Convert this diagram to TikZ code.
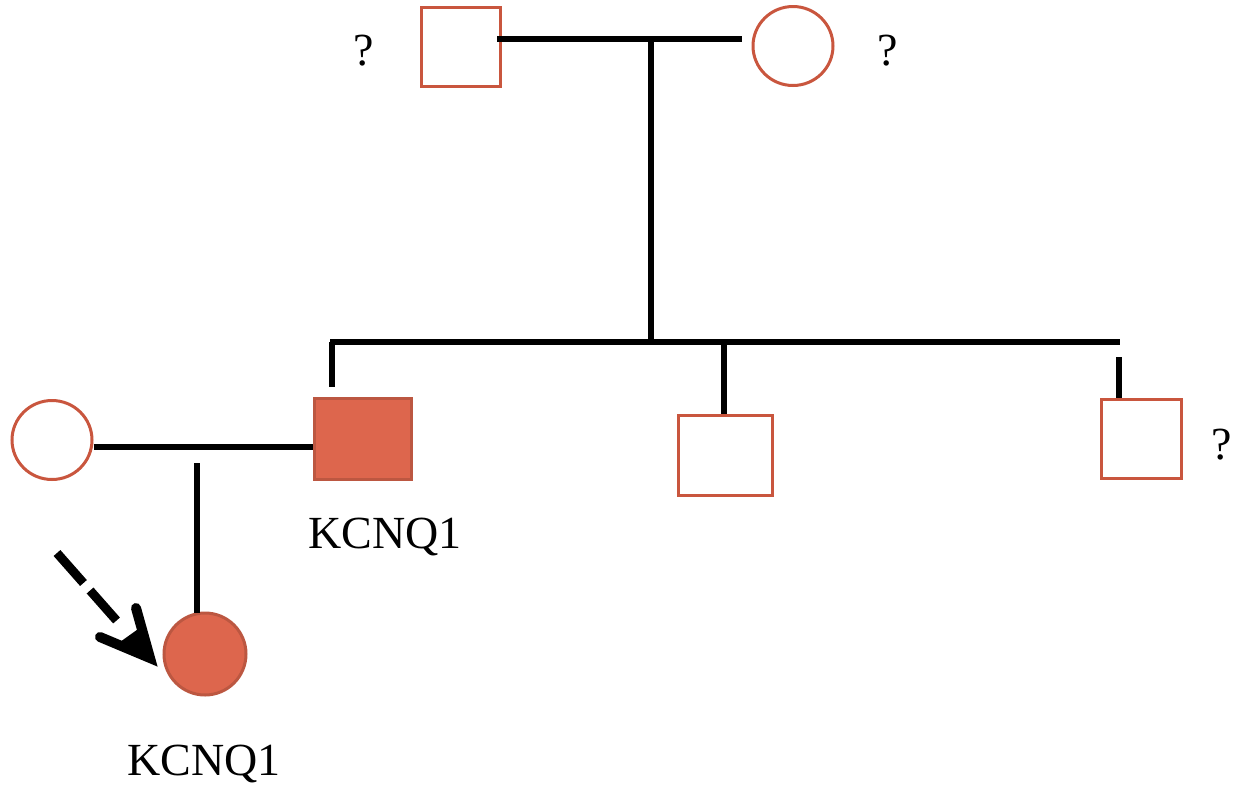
\documentclass[tikz,border=0pt]{standalone}
\usepackage{fontspec}
\setmainfont{Liberation Serif}
\definecolor{aff}{HTML}{DD664D}
\definecolor{edge}{HTML}{C9563E}
\tikzset{
  sq/.style={draw=edge, line width=3pt, fill=white, minimum width=79pt, minimum height=79pt, inner sep=0pt},
  sqf/.style={sq, fill=aff, draw=aff!85!black},
  ci/.style={draw=edge, line width=3pt, fill=white, ellipse, minimum width=80pt, minimum height=79pt, inner sep=0pt},
  cif/.style={ci, fill=aff, draw=aff!85!black},
  link/.style={line width=6pt, black},
  lbl/.style={font=\fontsize{46}{50}\selectfont, anchor=base, inner sep=0pt},
}
\usetikzlibrary{shapes.geometric}
\begin{document}
\begin{tikzpicture}[x=1pt,y=-1pt]
\useasboundingbox (0,0) rectangle (1235,788);
% parents
\node[sq] (gf) at (460.5,46.5) {};
\node[ci] (gm) at (793,46) {};
\coordinate (gmate) at (497,39);
\coordinate (gmateR) at (742,39);
\coordinate (gdrop) at (651,39);
\draw[link] (gmate) -- (gmateR);
% sibship
\coordinate (sibL) at (330,342);
\coordinate (sibR) at (1120,342);
\coordinate (sibM) at (651,342);
\draw[link] (gdrop) -- (sibM);
\draw[link] (sibL) -- (sibR);
% children
\node[sqf, minimum width=97pt, minimum height=81pt] (f) at (362.5,438.5) {};
\node[sq, minimum width=94pt, minimum height=80pt] (u1) at (725,455) {};
\node[sq, minimum width=80pt, minimum height=79pt] (u2) at (1141,438.5) {};
\coordinate (fTop) at (332,342);
\coordinate (u1Top) at (724,342);
\coordinate (u2Top) at (1119,357);
\draw[link] (fTop) -- (332,387);
\draw[link] (u1Top) -- (u1.north -| u1Top);
\draw[link] (u2Top) -- (u2.north -| u2Top);
% spouse
\node[ci] (m) at (52,440) {};
\draw[link] (m.east |- 0,447) -- (f.west |- 0,447);
\coordinate (cdrop) at (197,463);
% proband
\node[cif, minimum width=82pt, minimum height=82pt] (p) at (205,654) {};
\draw[link] (cdrop) -- (197,613);
% arrow
\coordinate (arrS) at (57,553);
\coordinate (arrT) at (150,658);
\draw[line width=9pt, dash pattern=on 40pt off 10pt] (arrS) -- (117,621);
\draw[line width=10pt, line cap=round, line join=miter, miter limit=20] (136,608) -- (arrT) -- (100,637);
\fill (arrT) -- (141,627) -- (120,642) -- cycle;
% labels
\node[lbl] (q1) at (364,65) {?};
\node[lbl] (q2) at (888,65) {?};
\node[lbl] (q3) at (1222,459) {?};
\node[lbl] (k1) at (385,548) {KCNQ1};
\node[lbl] (k2) at (204,775) {KCNQ1};
\end{tikzpicture}
\end{document}
